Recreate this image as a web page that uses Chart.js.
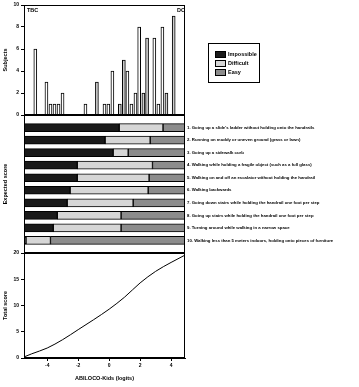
<!DOCTYPE html>
<html>
<head>
<meta charset="utf-8">
<script src="https://cdn.jsdelivr.net/npm/chart.js@4.4.1/dist/chart.umd.min.js"></script>
<style>
  body { margin: 0; background: #fff; }
  #wrap { position: relative; width: 359px; height: 387px; overflow: hidden;
          font-family: 'Liberation Sans', Arial, sans-serif; font-weight: bold; color: #000; }
  canvas { position: absolute; left: 0; }
  .tag { position: absolute; font-size: 5.5px; line-height: 6px; }
  #legend { position: absolute; left: 208px; top: 43px; width: 52px; height: 40px;
            border: 1px solid #000; box-sizing: border-box; font-size: 5.5px; }
  #legend div { position: absolute; left: 6px; height: 7px; line-height: 7px; white-space: nowrap; }
  #legend span { display: inline-block; width: 11px; height: 7px; border: 1px solid #000;
                 box-sizing: border-box; vertical-align: middle; margin-right: 2px; }
</style>
</head>
<body>
<div id="wrap">
  <canvas id="cTop" width="359" height="120" style="top:0"></canvas>
  <canvas id="cMid" width="359" height="138" style="top:115px"></canvas>
  <canvas id="cBot" width="359" height="139" style="top:248px"></canvas>
  <div class="tag" style="left:27px;top:7px">TBC</div>
  <div class="tag" style="left:177px;top:7px">DC</div>
  <div id="legend">
    <div style="top:7px"><span style="background:#1a1a1a"></span>Impossible</div>
    <div style="top:16px"><span style="background:#d6d6d6"></span>Difficult</div>
    <div style="top:25px"><span style="background:#8c8c8c"></span>Easy</div>
  </div>
</div>
<script>
// shared logit range of the three panels
const X_MIN = -5.5;
const X_MAX = 4.9;

// top panel: subjects per ability level
const whiteX = [-4.77, -4.05, -3.79, -3.53, -3.27, -3.01, -1.53, -0.30, -0.05, 0.21, 1.18, 1.44, 1.70, 1.94, 2.92, 3.18, 3.44];
const whiteN = [6, 3, 1, 1, 1, 2, 1, 1, 1, 4, 4, 1, 2, 8, 7, 1, 8];
const greyX  = [-0.79, 0.69, 0.95, 2.21, 2.45, 3.70, 4.17];
const greyN  = [3, 1, 5, 2, 7, 2, 9];
const topTicks = [0, 2, 4, 6, 8, 10];

// middle panel: item thresholds
const itemLabels = [
  "1. Going up a slide's ladder without holding onto the handrails",
  "2. Running on muddy or uneven ground (grass or lawn)",
  "3. Going up a sidewalk curb",
  "4. Walking while holding a fragile object (such as a full glass)",
  "5. Walking on and off an escalator without holding the handrail",
  "6. Walking backwards",
  "7. Going down stairs while holding the handrail one foot per step",
  "8. Going up stairs while holding the handrail one foot per step",
  "9. Turning around while walking in a narrow space",
  "10. Walking less than 5 meters indoors, holding onto pieces of furniture"
];
const thrImpossible = [0.65, -0.26, 0.26, -2.06, -2.06, -2.52, -2.71, -3.35, -3.61, -5.37];
const thrDifficult  = [3.48, 2.65, 1.23, 2.80, 2.58, 2.52, 1.55, 0.77, 0.77, -3.79];

// bottom panel: expected total score
const curveX = [-5.5, -5, -4, -3, -2, -1, 0, 1, 2, 3, 4, 4.9];
const curveY = [0.2, 0.8, 1.9, 3.5, 5.4, 7.3, 9.3, 11.6, 14.3, 16.5, 18.2, 19.6];
const botXTicks = [-4, -2, 0, 2, 4];
const botYTicks = [0, 5, 10, 15, 20];

const FONT = "'Liberation Sans', Arial, sans-serif";
Chart.defaults.font.family = FONT;
Chart.defaults.font.weight = 'bold';
Chart.defaults.font.size = 5;
Chart.defaults.color = '#000';
Chart.defaults.animation = false;
Chart.defaults.responsive = false;
Chart.defaults.plugins.legend.display = false;
Chart.defaults.plugins.tooltip.enabled = false;

const frame = {
  id: 'frame',
  afterDraw(c) {
    const { ctx, chartArea: a } = c;
    ctx.save();
    ctx.strokeStyle = '#000';
    ctx.lineWidth = 1;
    ctx.strokeRect(Math.round(a.left) + 0.5, Math.round(a.top) + 0.5,
                   Math.round(a.right - a.left) - 1, Math.round(a.bottom - a.top) - 1);
    ctx.restore();
  }
};

// item names written to the right of the middle panel, one per row of the y scale
const itemText = {
  id: 'itemText',
  afterDraw(c) {
    const { ctx, chartArea: a, scales: { y } } = c;
    ctx.save();
    ctx.font = 'bold 4.3px ' + FONT;
    ctx.fillStyle = '#000';
    ctx.textAlign = 'left';
    ctx.textBaseline = 'middle';
    itemLabels.forEach((t, i) => ctx.fillText(t, a.right + 2, y.getPixelForValue(i)));
    ctx.restore();
  }
};

const setTicks = arr => s => { s.ticks = arr.map(v => ({ value: v })); };

function leftAxis(min, max, ticks, title) {
  return {
    min, max,
    afterFit: s => { s.width = 24; },
    afterBuildTicks: setTicks(ticks),
    ticks: { padding: 2, autoSkip: false },
    grid: { drawOnChartArea: false, tickLength: 3, color: '#000' },
    border: { color: '#000' },
    title: { display: true, text: title, font: { size: 5.5 }, padding: { top: 2, bottom: 0 } }
  };
}

const xHidden = { type: 'linear', min: X_MIN, max: X_MAX, display: false, offset: false };

new Chart(document.getElementById('cTop'), {
  type: 'bar',
  data: {
    datasets: [
      { data: whiteX.map((x, i) => ({ x, y: whiteN[i] })), backgroundColor: '#fff',
        borderColor: '#000', borderWidth: 1, barThickness: 3, grouped: false },
      { data: greyX.map((x, i) => ({ x, y: greyN[i] })), backgroundColor: '#cfcfcf',
        borderColor: '#000', borderWidth: 1, barThickness: 3, grouped: false }
    ]
  },
  options: {
    layout: { padding: { top: 5, bottom: 5, right: 174 } },
    scales: { x: xHidden, y: leftAxis(0, 10, topTicks, 'Subjects') }
  },
  plugins: [frame]
});

const seg = (from, to) => itemLabels.map((_, i) => ({ y: i, x: [from(i), to(i)] }));
const barStyle = { borderColor: '#000', borderWidth: 1, borderSkipped: false, barThickness: 8, grouped: false };

new Chart(document.getElementById('cMid'), {
  type: 'bar',
  data: {
    datasets: [
      Object.assign({ data: seg(() => X_MIN, i => thrImpossible[i]), backgroundColor: '#1a1a1a' }, barStyle),
      Object.assign({ data: seg(i => thrImpossible[i], i => thrDifficult[i]), backgroundColor: '#d6d6d6' }, barStyle),
      Object.assign({ data: seg(i => thrDifficult[i], () => X_MAX), backgroundColor: '#8c8c8c' }, barStyle)
    ]
  },
  options: {
    indexAxis: 'y',
    layout: { padding: { right: 174 } },
    scales: {
      x: xHidden,
      y: {
        type: 'linear', reverse: true, min: -1, max: 10, offset: false,
        afterFit: s => { s.width = 24; },
        ticks: { display: false },
        grid: { display: false },
        border: { display: false },
        title: { display: true, text: 'Expected score', font: { size: 5.5 }, padding: { top: 2, bottom: 0 } }
      }
    }
  },
  plugins: [frame, itemText]
});

new Chart(document.getElementById('cBot'), {
  type: 'line',
  data: {
    datasets: [{
      data: curveX.map((x, i) => ({ x, y: curveY[i] })),
      borderColor: '#000', borderWidth: 1, pointRadius: 0, cubicInterpolationMode: 'monotone'
    }]
  },
  options: {
    layout: { padding: { top: 5, right: 174 } },
    scales: {
      x: {
        type: 'linear', min: X_MIN, max: X_MAX,
        afterFit: s => { s.height = 29; },
        afterBuildTicks: setTicks(botXTicks),
        ticks: { padding: 2, autoSkip: false },
        grid: { drawOnChartArea: false, tickLength: 3, color: '#000' },
        border: { color: '#000' },
        title: { display: true, text: 'ABILOCO-Kids (logits)', font: { size: 5.5 }, padding: { top: 2, bottom: 5 } }
      },
      y: leftAxis(0, 20, botYTicks, 'Total score')
    }
  },
  plugins: [frame]
});
</script>
</body>
</html>
